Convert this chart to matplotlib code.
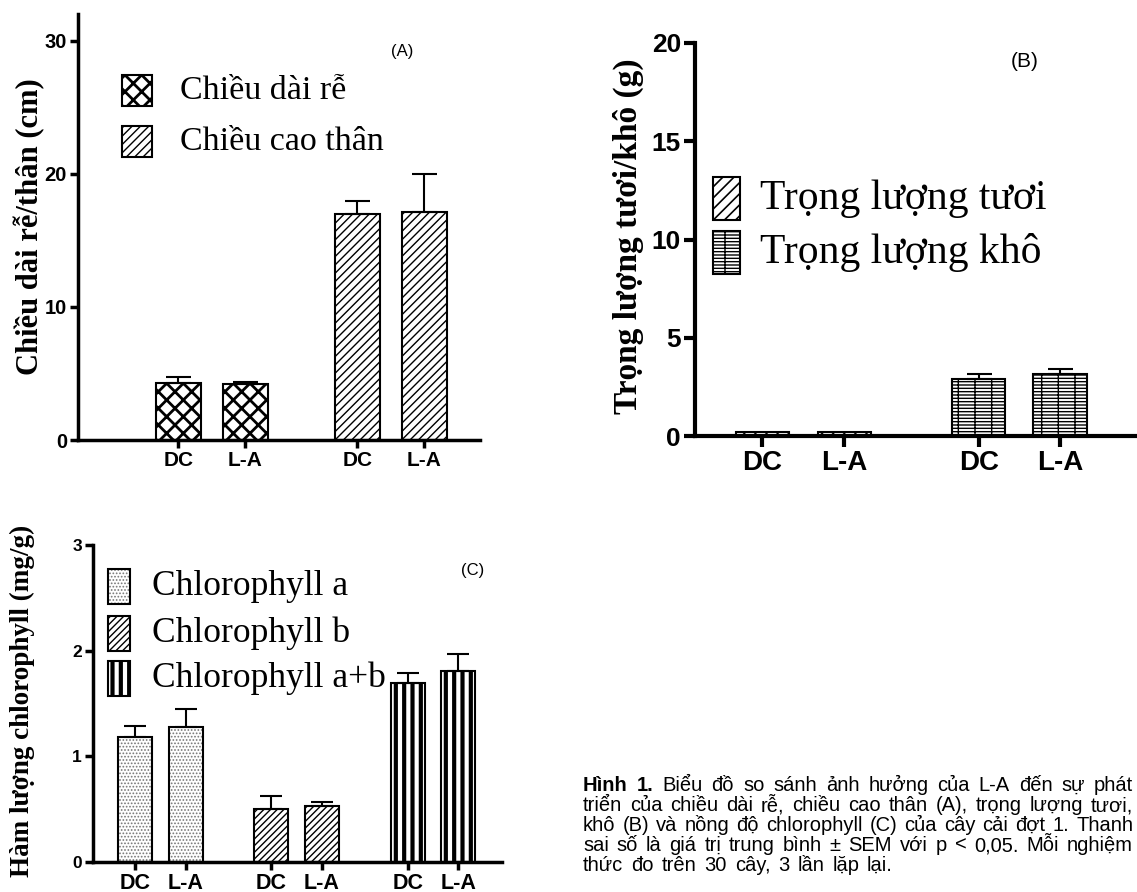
import matplotlib
matplotlib.use("Agg")
import matplotlib.pyplot as plt
from matplotlib.patches import Rectangle

# ---- data ----
groups_x = ["DC", "L-A"]

# (A) root length / stem height (cm)
root_len = [4.3, 4.2]
root_err = [0.45, 0.12]
stem_h = [17.0, 17.1]
stem_err = [0.95, 2.9]

# (B) fresh / dry weight (g)
fresh_w = [0.2, 0.22]
fresh_err = [0.0, 0.0]
dry_w = [2.9, 3.13]
dry_err = [0.25, 0.28]

# (C) chlorophyll (mg/g)
chl_a = [1.18, 1.28]
chl_a_err = [0.11, 0.17]
chl_b = [0.50, 0.53]
chl_b_err = [0.12, 0.04]
chl_ab = [1.69, 1.81]
chl_ab_err = [0.10, 0.16]

caption = [
    "Hình 1. Biểu đồ so sánh ảnh hưởng của L-A đến sự phát",
    "triển của chiều dài rễ, chiều cao thân (A), trọng lượng tươi,",
    "khô (B) và nồng độ chlorophyll (C) của cây cải đợt 1. Thanh",
    "sai số là giá trị trung bình ± SEM với p < 0,05. Mỗi nghiệm",
    "thức đo trên 30 cây, 3 lần lặp lại.",
]

SERIF = "Liberation Serif"
SANS = "Liberation Sans"
W, H = 1137, 892

fig = plt.figure(figsize=(W / 100, H / 100), dpi=100)


def px_axes(x0, y_top, x1, y_bot):
    return fig.add_axes([x0 / W, 1 - y_bot / H, (x1 - x0) / W, (y_bot - y_top) / H])


def style(ax, lw, ysize, xsize, tlen=6):
    for s in ["top", "right"]:
        ax.spines[s].set_visible(False)
    for s in ["left", "bottom"]:
        ax.spines[s].set_linewidth(lw)
    ax.tick_params(axis="both", width=lw, length=tlen, direction="out", pad=2)
    for lab in ax.get_yticklabels():
        lab.set_fontfamily(SANS)
        lab.set_fontweight("bold")
        lab.set_fontsize(ysize)
    for lab in ax.get_xticklabels():
        lab.set_fontfamily(SANS)
        lab.set_fontweight("bold")
        lab.set_fontsize(xsize)


def hbars(ax, xs, vals, errs, width, hatch, hlw, hatch_color="black", capsize=8, elw=1.5):
    with plt.rc_context({"hatch.linewidth": hlw}):
        bars = ax.bar(xs, vals, width, color="white", edgecolor=hatch_color,
                      hatch=hatch, linewidth=0, zorder=2)
        for b in bars:
            if hasattr(b, "set_hatch_linewidth"):
                b.set_hatch_linewidth(hlw)
    ax.bar(xs, vals, width, color="none", edgecolor="black", linewidth=1.5, zorder=3)
    ax.errorbar(xs, vals, yerr=[[0] * len(errs), errs], fmt="none", ecolor="black",
                elinewidth=elw, capsize=capsize, capthick=elw, zorder=4)


def leg_box(ax, x, y, w, h, tx, hatch, hlw, label, size, hatch_color="black"):
    with plt.rc_context({"hatch.linewidth": hlw}):
        r = Rectangle((x, y), w, h, transform=ax.transAxes, facecolor="white",
                      edgecolor=hatch_color, hatch=hatch, linewidth=0, clip_on=False)
        if hasattr(r, "set_hatch_linewidth"):
            r.set_hatch_linewidth(hlw)
        ax.add_patch(r)
    ax.add_patch(Rectangle((x, y), w, h, transform=ax.transAxes, facecolor="none",
                           edgecolor="black", linewidth=1.5, clip_on=False))
    ax.text(tx, y + h / 2, label, transform=ax.transAxes,
            fontfamily=SERIF, fontsize=size, va="center", ha="left")


# ---------------- Panel A ----------------
axA = px_axes(78, 14, 480, 440)
xa = [1.5, 2.5, 4.17, 5.17]
hbars(axA, xa[:2], root_len, root_err, 0.67, "xx", 2.0, capsize=9)
hbars(axA, xa[2:], stem_h, stem_err, 0.67, "////", 1.0, capsize=9)
axA.set_xlim(0, 6)
axA.set_ylim(0, 32)
axA.set_yticks([0, 10, 20, 30])
axA.set_xticks(xa)
axA.set_xticklabels(groups_x * 2)
style(axA, 2.5, 14.5, 15)
leg_box(axA, 0.109, 0.784, 0.0746, 0.073, 0.254, "xx", 2.0, "Chiều dài rễ", 24.5)
leg_box(axA, 0.109, 0.664, 0.0746, 0.073, 0.254, "////", 1.0, "Chiều cao thân", 24.5)
axA.text(0.806, 0.911, "(A)", transform=axA.transAxes, fontfamily=SANS,
         fontsize=12, ha="center", va="center")
fig.text(30 / W, 1 - 227 / H, "Chiều dài rễ/thân (cm)", rotation=90, ha="center",
         va="center", fontfamily=SERIF, fontweight="bold", fontsize=22)

# ---------------- Panel B ----------------
axB = px_axes(695, 43, 1137, 436)
xb = [0.82, 1.82, 3.46, 4.45]
hbars(axB, xb[:2], fresh_w, fresh_err, 0.65, "///", 1.2, capsize=0)
hbars(axB, xb[2:], dry_w, dry_err, 0.65, "----+", 1.0, capsize=9)
axB.set_xlim(0, 5.39)
axB.set_ylim(0, 20)
axB.set_yticks([0, 5, 10, 15, 20])
axB.set_xticks(xb)
axB.set_xticklabels(groups_x * 2)
style(axB, 3, 19, 20, tlen=8)
leg_box(axB, 0.041, 0.550, 0.061, 0.109, 0.147, "///", 1.2, "Trọng lượng tươi", 30)
leg_box(axB, 0.041, 0.412, 0.061, 0.109, 0.147, "----+", 1.0, "Trọng lượng khô", 30)
axB.text(0.747, 0.952, "(B)", transform=axB.transAxes, fontfamily=SANS,
         fontsize=15, ha="center", va="center")
fig.text(628 / W, 1 - 236 / H, "Trọng lượng tươi/khô (g)", rotation=90, ha="center",
         va="center", fontfamily=SERIF, fontweight="bold", fontsize=24)

# ---------------- Panel C ----------------
axC = px_axes(93, 545, 502, 862)
xc = [0.82, 1.82, 3.49, 4.49, 6.17, 7.16]
hbars(axC, xc[:2], chl_a, chl_a_err, 0.67, ".....", 0.8, hatch_color="#777777", capsize=8)
hbars(axC, xc[2:4], chl_b, chl_b_err, 0.67, "/////", 1.0, capsize=8)
hbars(axC, xc[4:], chl_ab, chl_ab_err, 0.67, "||", 3.0, capsize=8)
axC.set_xlim(0, 8.02)
axC.set_ylim(0, 3)
axC.set_yticks([0, 1, 2, 3])
axC.set_xticks(xc)
axC.set_xticklabels(groups_x * 3)
style(axC, 2.5, 12.5, 15.5)
leg_box(axC, 0.037, 0.814, 0.054, 0.110, 0.144, ".....", 0.8, "Chlorophyll a", 25.5,
        hatch_color="#777777")
leg_box(axC, 0.037, 0.666, 0.054, 0.110, 0.144, "/////", 1.0, "Chlorophyll b", 25.5)
leg_box(axC, 0.037, 0.524, 0.054, 0.110, 0.144, "||", 3.0, "Chlorophyll a+b", 25.5)
axC.text(0.927, 0.921, "(C)", transform=axC.transAxes, fontfamily=SANS,
         fontsize=12, ha="center", va="center")
fig.text(22 / W, 1 - 701 / H, "Hàm lượng chlorophyll (mg/g)", rotation=90, ha="center",
         va="center", fontfamily=SERIF, fontweight="bold", fontsize=19.5)

# ---------------- caption (justified) ----------------
x_left, x_right, x_last = 583, 1133, 893
renderer = fig.canvas.get_renderer()
for i, line in enumerate(caption):
    words = line.split(" ")
    y = 1 - (791 + 20 * i) / H
    texts = []
    for j, wd in enumerate(words):
        weight = "bold" if (i == 0 and j < 2) else "normal"
        t = fig.text(0, y, wd, fontfamily=SANS, fontsize=14.5, fontweight=weight,
                     va="baseline", ha="left")
        texts.append(t)
    widths = [t.get_window_extent(renderer).width for t in texts]
    end = x_right if i < len(caption) - 1 else x_last
    gap = (end - x_left - sum(widths)) / (len(words) - 1)
    x = x_left
    for t, wdt in zip(texts, widths):
        t.set_x(x / W)
        x += wdt + gap

fig.savefig("out.png", dpi=100)
